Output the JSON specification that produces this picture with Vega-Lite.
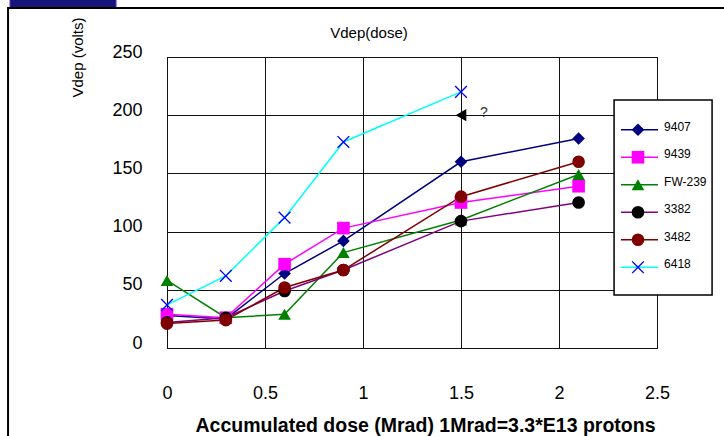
{
  "$schema": "https://vega.github.io/schema/vega-lite/v6.json",
  "width": 490,
  "height": 291,
  "autosize": {"type": "none"},
  "padding": {"left": 167, "top": 57, "right": 67, "bottom": 88},
  "background": "white",
  "config": {
    "font": "Liberation Sans",
    "view": {"stroke": "black", "strokeWidth": 1}
  },
  "title": {
    "text": "Vdep(dose)",
    "font": "Liberation Sans",
    "fontSize": 15,
    "fontWeight": "normal",
    "color": "black",
    "anchor": "middle",
    "frame": "group",
    "baseline": "alphabetic",
    "offset": 19,
    "dx": -43,
    "dy": 74
  },
  "datasets": {
    "vdep": [
      {"series": "9407", "dose": 0, "v": 28},
      {"series": "9407", "dose": 0.3, "v": 25},
      {"series": "9407", "dose": 0.6, "v": 64},
      {"series": "9407", "dose": 0.9, "v": 92},
      {"series": "9407", "dose": 1.5, "v": 160},
      {"series": "9407", "dose": 2.1, "v": 180},
      {"series": "9439", "dose": 0, "v": 29},
      {"series": "9439", "dose": 0.3, "v": 26},
      {"series": "9439", "dose": 0.6, "v": 72},
      {"series": "9439", "dose": 0.9, "v": 103},
      {"series": "9439", "dose": 1.5, "v": 125},
      {"series": "9439", "dose": 2.1, "v": 139},
      {"series": "FW-239", "dose": 0, "v": 58},
      {"series": "FW-239", "dose": 0.3, "v": 26},
      {"series": "FW-239", "dose": 0.6, "v": 29},
      {"series": "FW-239", "dose": 0.9, "v": 82},
      {"series": "FW-239", "dose": 1.5, "v": 110},
      {"series": "FW-239", "dose": 2.1, "v": 149},
      {"series": "3382", "dose": 0, "v": 22},
      {"series": "3382", "dose": 0.3, "v": 26},
      {"series": "3382", "dose": 0.6, "v": 49},
      {"series": "3382", "dose": 0.9, "v": 67},
      {"series": "3382", "dose": 1.5, "v": 109},
      {"series": "3382", "dose": 2.1, "v": 125},
      {"series": "3482", "dose": 0, "v": 21},
      {"series": "3482", "dose": 0.3, "v": 24},
      {"series": "3482", "dose": 0.6, "v": 52},
      {"series": "3482", "dose": 0.9, "v": 67},
      {"series": "3482", "dose": 1.5, "v": 130},
      {"series": "3482", "dose": 2.1, "v": 160},
      {"series": "6418", "dose": 0, "v": 37},
      {"series": "6418", "dose": 0.3, "v": 62},
      {"series": "6418", "dose": 0.6, "v": 112},
      {"series": "6418", "dose": 0.9, "v": 177},
      {"series": "6418", "dose": 1.5, "v": 220}
    ],
    "note": [{"dose": 1.5, "v": 200, "label": "?"}],
    "legend": [
      {"series": "9407"},
      {"series": "9439"},
      {"series": "FW-239"},
      {"series": "3382"},
      {"series": "3482"},
      {"series": "6418"}
    ]
  },
  "layer": [
    {
      "layer": [
        {
          "data": {"values": [{"part": "logo"}]},
          "mark": {"type": "rect", "fill": "#16167a", "stroke": "#6a2cc8", "strokeWidth": 1},
          "encoding": {
            "x": {"datum": -0.801},
            "x2": {"datum": -0.26},
            "y": {"datum": 300},
            "y2": {"datum": 292.1}
          }
        },
        {
          "data": {"values": [{"part": "frame"}]},
          "mark": {"type": "rect", "filled": false, "stroke": "black", "strokeWidth": 2},
          "encoding": {
            "x": {"datum": -0.811},
            "x2": {"datum": 3.2},
            "y": {"datum": 292.1},
            "y2": {"datum": -85}
          }
        },
        {
          "data": {"values": [{"part": "legend box"}]},
          "mark": {"type": "rect", "fill": "white", "stroke": "black", "strokeWidth": 1.5},
          "encoding": {
            "x": {"datum": 2.281},
            "x2": {"datum": 2.781},
            "y": {"datum": 213.1},
            "y2": {"datum": 45.5}
          }
        },
        {
          "encoding": {
            "x": {
              "field": "dose",
              "type": "quantitative",
              "scale": {"domain": [0, 2.5], "nice": false, "zero": false},
              "axis": {
                "orient": "bottom",
                "values": [0, 0.5, 1, 1.5, 2, 2.5],
                "format": "~g",
                "labelFlush": false,
                "labelOverlap": false,
                "ticks": false,
                "tickSize": 0,
                "domain": false,
                "grid": true,
                "gridColor": "#111111",
                "gridWidth": 1,
                "labelFont": "Liberation Sans",
                "labelFontSize": 18,
                "labelColor": "black",
                "labelBaseline": "alphabetic",
                "labelPadding": 50,
                "title": "Accumulated dose (Mrad) 1Mrad=3.3*E13 protons",
                "titleFont": "Liberation Sans",
                "titleFontSize": 19.5,
                "titleFontWeight": "bold",
                "titleColor": "black",
                "titleAlign": "center",
                "titleBaseline": "alphabetic",
                "titleX": 258,
                "titleY": 83
              }
            },
            "y": {
              "field": "v",
              "type": "quantitative",
              "scale": {"domain": [0, 250], "nice": false, "zero": false},
              "axis": {
                "values": [0, 50, 100, 150, 200, 250],
                "format": "d",
                "grid": true,
                "gridColor": "#111111",
                "gridWidth": 1,
                "domain": false,
                "ticks": false,
                "tickSize": 0,
                "labelFont": "Liberation Sans",
                "labelFontSize": 18,
                "labelColor": "black",
                "labelPadding": 25,
                "labelOffset": -5,
                "title": "Vdep (volts)",
                "titleFont": "Liberation Sans",
                "titleFontSize": 15,
                "titleFontWeight": "normal",
                "titleColor": "black",
                "titleAngle": -90,
                "titleAlign": "center",
                "titleBaseline": "middle",
                "titleX": -90,
                "titleY": 0
              }
            }
          },
          "layer": [
            {
              "data": {"name": "vdep"},
              "mark": {"type": "line", "strokeWidth": 1.5},
              "encoding": {
                "stroke": {
                  "field": "series",
                  "type": "nominal",
                  "scale": {
                    "domain": ["9407", "9439", "FW-239", "3382", "3482", "6418"],
                    "range": ["#000080", "#ff00ff", "#008000", "#800080", "#800000", "#00ffff"]
                  },
                  "legend": null
                }
              }
            },
            {
              "data": {"name": "vdep"},
              "mark": {"type": "point", "filled": true, "opacity": 1, "size": 160},
              "encoding": {
                "fill": {
                  "field": "series",
                  "type": "nominal",
                  "scale": {
                    "domain": ["9407", "9439", "FW-239", "3382", "3482", "6418"],
                    "range": ["#000080", "#ff00ff", "#008000", "#000000", "#800000", "#0000ff"]
                  },
                  "legend": null
                },
                "shape": {
                  "field": "series",
                  "type": "nominal",
                  "scale": {
                    "domain": ["9407", "9439", "FW-239", "3382", "3482", "6418"],
                    "range": ["diamond", "square", "triangle-up", "circle", "circle", "M-0.85,-1L0,-0.15L0.85,-1L1,-0.85L0.15,0L1,0.85L0.85,1L0,0.15L-0.85,1L-1,0.85L-0.15,0L-1,-0.85Z"]
                  },
                  "legend": null
                }
              }
            },
            {
              "data": {"name": "note"},
              "mark": {"type": "point", "filled": true, "shape": "triangle-left", "size": 150, "color": "black", "opacity": 1}
            },
            {
              "data": {"name": "note"},
              "mark": {"type": "text", "dx": 23, "dy": -2, "fontSize": 14, "font": "Liberation Sans", "color": "#333333"},
              "encoding": {"text": {"field": "label"}}
            }
          ]
        }
      ]
    },
    {
      "data": {"name": "legend"},
      "encoding": {
        "y": {
          "field": "series",
          "type": "nominal",
          "scale": {
            "type": "point",
            "domain": ["9407", "9439", "FW-239", "3382", "3482", "6418"],
            "range": [59, 224]
          },
          "axis": null
        }
      },
      "layer": [
        {
          "mark": {"type": "rule", "strokeWidth": 1.5},
          "encoding": {
            "x": {"datum": 2.316},
            "x2": {"datum": 2.505},
            "stroke": {"field": "series", "type": "nominal", "legend": null}
          }
        },
        {
          "mark": {"type": "point", "filled": true, "opacity": 1, "size": 160},
          "encoding": {
            "x": {"datum": 2.403},
            "fill": {"field": "series", "type": "nominal", "legend": null},
            "shape": {"field": "series", "type": "nominal", "legend": null}
          }
        },
        {
          "mark": {"type": "text", "align": "left", "baseline": "alphabetic", "dy": 1, "fontSize": 12, "font": "Liberation Sans", "color": "black"},
          "encoding": {
            "x": {"datum": 2.536},
            "text": {"field": "series"}
          }
        }
      ]
    }
  ],
  "resolve": {"scale": {"y": "independent"}, "axis": {"y": "independent"}}
}
